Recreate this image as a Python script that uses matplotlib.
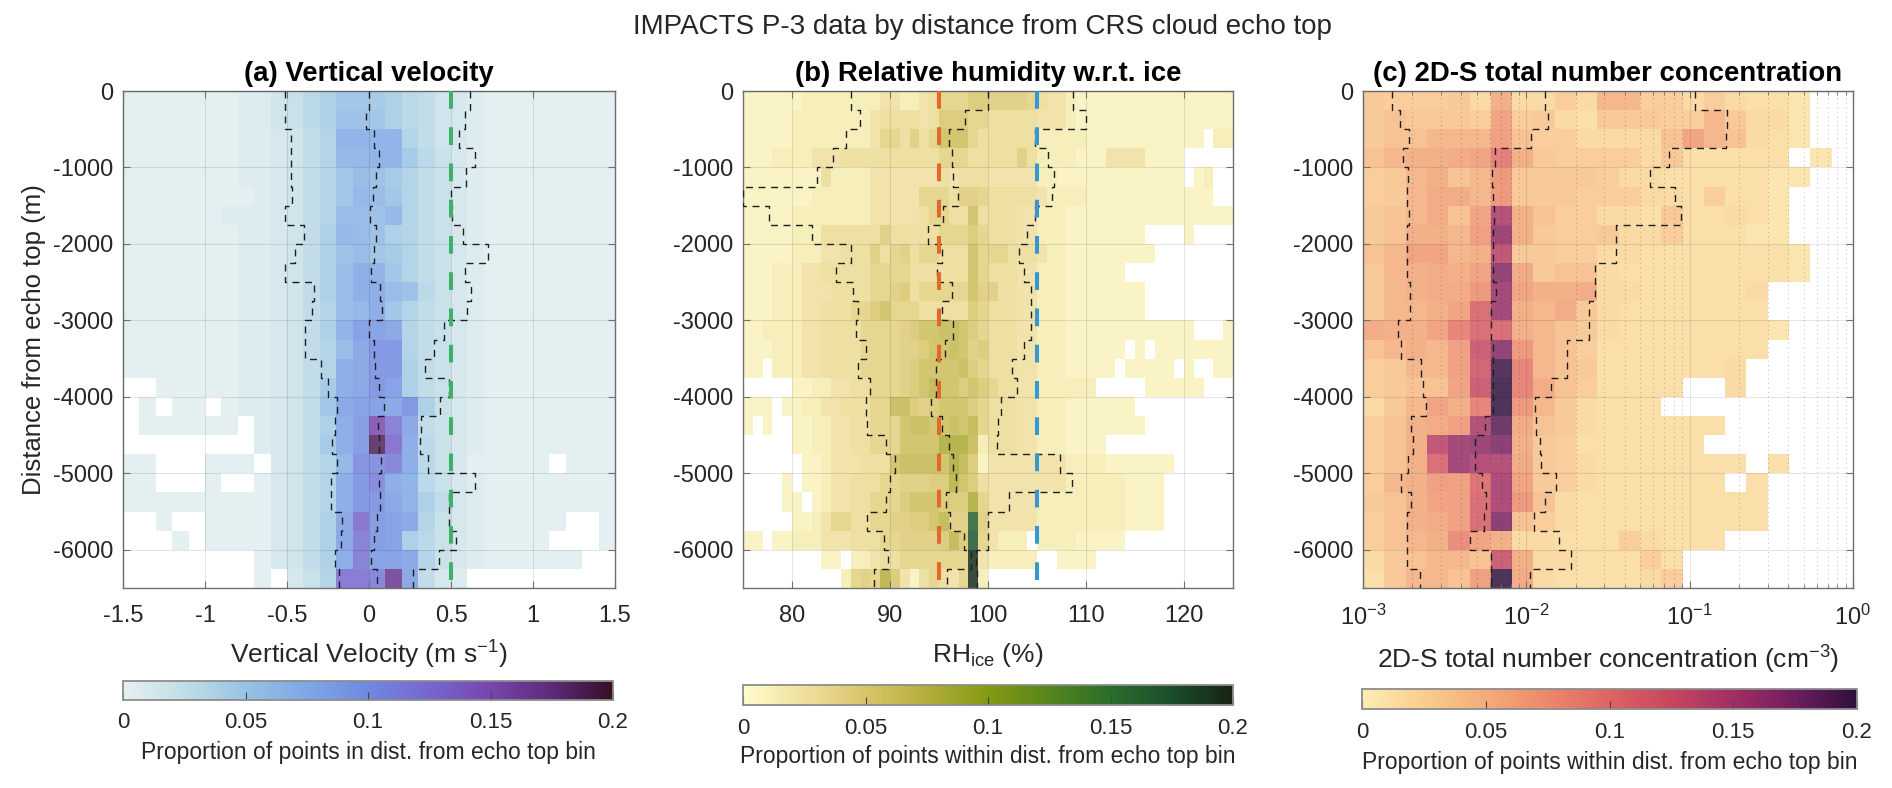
import numpy as np
import matplotlib
matplotlib.use("Agg")
import matplotlib.pyplot as plt
from matplotlib.colors import LinearSegmentedColormap, Normalize
from matplotlib.cm import ScalarMappable

plt.rcParams['font.family'] = ['Liberation Sans', 'DejaVu Sans']
plt.rcParams['axes.unicode_minus'] = False
plt.rcParams['mathtext.fontset'] = 'custom'
plt.rcParams['mathtext.rm'] = 'Liberation Sans'
plt.rcParams['mathtext.it'] = 'Liberation Sans:italic'
plt.rcParams['mathtext.bf'] = 'Liberation Sans:bold'
plt.rcParams['mathtext.default'] = 'regular'

# ------------------------------------------------------------------ text
SUPTITLE = "IMPACTS P-3 data by distance from CRS cloud echo top"
TITLES = ["(a) Vertical velocity", "(b) Relative humidity w.r.t. ice",
          "(c) 2D-S total number concentration"]
XLABELS = ["Vertical Velocity (m s$^{-1}$)", "RH$_{ice}$ (%)",
           "2D-S total number concentration (cm$^{-3}$)"]
YLABEL = "Distance from echo top (m)"
CBAR_LABELS = ["Proportion of points in dist. from echo top bin",
               "Proportion of points within dist. from echo top bin",
               "Proportion of points within dist. from echo top bin"]

# ------------------------------------------------------------------ bins / ticks
DIST_EDGES = np.arange(0, -6750, -250)          # 0 ... -6500 m, 26 bins
VV_EDGES = np.linspace(-1.5, 1.5, 31)           # 0.1 m/s bins
RH_EDGES = np.linspace(75, 125, 51)             # 1 % bins
NT_EDGES = np.logspace(-3, 0, 24)               # log bins

Y_TICKS = [0, -1000, -2000, -3000, -4000, -5000, -6000]
VV_TICKS = [-1.5, -1, -0.5, 0, 0.5, 1, 1.5]
VV_TICKLABELS = ["-1.5", "-1", "-0.5", "0", "0.5", "1", "1.5"]
RH_TICKS = [80, 90, 100, 110, 120]
NT_TICKS = [1e-3, 1e-2, 1e-1, 1]
NT_TICKLABELS = ["10$^{-3}$", "10$^{-2}$", "10$^{-1}$", "10$^{0}$"]
CBAR_TICKS = [0, 0.05, 0.1, 0.15, 0.2]
CBAR_TICKLABELS = ["0", "0.05", "0.1", "0.15", "0.2"]

# ------------------------------------------------------------------ histogram proportions
# one string per 250 m row (top row first); each character is a proportion
# in steps of 0.005 (index in LEVEL_CODES); '.' = no data
LEVEL_CODES = "0123456789abcdefghijklmnopqrstuvwxyzABCDEFGH"
LEVEL_STEP = 0.005

VV_ROWS = [
    "111111122" "4579bba97643" "211111111",
    "111111122" "4579ccb97643" "211111111",
    "111111122" "3468ffff8643" "211111111",
    "111111122" "3468eeffa753" "211111111",
    "111111122" "3468bdca8653" "211111111",
    "111111112" "3468bedb8653" "211111111",
    "111111222" "3468ddce8653" "211111111",
    "111111122" "3469edc98653" "211111111",
    "111111122" "3469cdba8653" "211111111",
    "111111122" "3469dgfb8653" "211111111",
    "111111122" "3469dggdc753" "211111111",
    "111111122" "3468degb8653" "211111111",
    "111111122" "3469fiih8653" "211111111",
    "111111122" "3468dhkk8653" "211111111",
    "111111122" "3468ghkk9653" "211111111",
    "..1111122" "346aghki9653" "211111111",
    ".1.11.122" "346bhiihk953" "211111111",
    ".111111.2" "3469gjuoh653" "211111111",
    "........2" "346agjBqg753" "211111111",
    "11...111." "3468ellng753" "11111.111",
    "11...1..1" "3468gkmgf753" "211111111",
    "111111111" "3468gkkhf963" "211111111",
    "..1..1111" "3469hqjih853" "211111..1",
    "...1.1111" "3469hoji9753" "21111...1",
    "........1" "3469goiih853" "2111111..",
    "........1" ".358ppnxh632" ".........",
]

RH_ROWS = [
    "2222223333" "3333553356" "888aa99998" "6553222222" "2222222222",
    "2222233333" "3335666656" "aaa8866666" "5553222222" "2222222222",
    "2222233333" "3335886968" "ccc8666666" "3333322222" "2222222.33",
    "2223333555" "6666666666" "8886666696" "3333222555" "52222.....",
    "2222222263" "3335555555" "6566655555" "3322222222" "22222.23..",
    "2222222333" "3335555588" "8699866666" "5333322222" "22222222..",
    "2222233333" "3335555568" "866c666655" "3332222222" "2222222222",
    "2222233366" "6666966666" "888a866655" "3332222222" "2....2....",
    "2222233355" "6669689688" "666c888666" "5332222222" "22........",
    "2223335566" "6668888666" "666c866655" "333222222." "..........",
    "2223335556" "666889a688" "888c996655" "3332222222" "2.........",
    "2223335566" "688ac88866" "666a866655" "3332222222" "2.........",
    "2233335566" "6688889acc" "ddca866655" "3332222222" "222222...2",
    "2223335566" "66888899ac" "cdc9a66655" "333222222." "2.22222222",
    "22.3335566" "6688889acc" "ccda866655" "33322222.2" "2222.2..22",
    ".....22335" "5668889ace" "ccaca86655" "333333...." ".222222...",
    "222.223355" "66688dda9a" "ccca866655" "3332222222" "..........",
    "2.2..22335" "566888cddc" "cdce866655" "3332222222" "2.........",
    ".....22335" "566888cccc" "gggd366655" "3332222..." "..........",
    "......2235" "55666cdddd" "cgea255555" "5553333222" "2222......",
    "....2.2235" "566688999a" "afca655555" "5553333332" "222.......",
    "....22.235" "566888accc" "aaag855555" "3333333332" "222.......",
    ".....22358" "8668899aac" "e99w955555" "3333333332" "222.......",
    "22.2233355" "5666889999" "aeay85333." "333322222." "..........",
    "........22" ".335668888" "888D533333" "..2222...." "..........",
    ".........." "3898fa5268" "658D3....." ".........." "..........",
]

NT_ROWS = [
    "766674b4464aa66464332..",
    "787776d674377766a7442..",
    "788aaae86644448da8432..",
    "8abbcdjb766664733333.2.",
    "67ab8af77776443333322..",
    "67accaf7776664436332...",
    "78ac8dtb866443733432...",
    "78bbaewb766744633322...",
    "8addabr77664433333332..",
    "7abcbdxc7884333333332..",
    "7abccfvdbbc44333334....",
    "7aabdmvbac743333333....",
    "cbbdimmba87433333332...",
    "8abaepxfa8633333333....",
    "67aaeoDia873333334.....",
    "6788dpEic863333..4.....",
    "47adbiEfa74333.........",
    "68bcetBc874333333......",
    "68brvwyb76333333.......",
    "68bmvttc7643333333.3...",
    "6abeelud764333333.3....",
    "78bdemuf84333333333....",
    "68bcemy864333333333....",
    "68abhdb4433364333......",
    "478aa8pb4433363........",
    "37aa8eEc4333346........",
]

# ------------------------------------------------------------------ per-row quantile lines (dashed)
VV_Q_LOW = [-0.51, -0.51, -0.474, -0.478, -0.478, -0.47, -0.51, -0.398, -0.453, -0.514,
            -0.337, -0.345, -0.39, -0.39, -0.29, -0.25, -0.195, -0.205, -0.224, -0.195,
            -0.23, -0.23, -0.167, -0.17, -0.21, -0.18]
VV_Q_MID = [0.0, -0.016, 0.03, 0.06, 0.04, 0.025, 0.005, 0.04, 0.03, 0.015,
            0.07, 0.08, 0.0, 0.03, 0.035, 0.06, 0.09, 0.055, 0.06, 0.075,
            0.06, 0.065, 0.05, 0.03, 0.015, 0.05]
VV_Q_HIGH = [0.614, 0.583, 0.547, 0.644, 0.594, 0.498, 0.508, 0.573, 0.726, 0.583,
             0.624, 0.6, 0.455, 0.396, 0.34, 0.49, 0.43, 0.315, 0.31, 0.36,
             0.648, 0.488, 0.488, 0.53, 0.425, 0.27]

RH_Q_LOW = [86.05, 86.9, 85.5, 84.2, 82.6, 75.0, 77.7, 82.0, 86.05, 84.5,
            86.2, 86.7, 86.5, 87.5, 86.7, 88.0, 87.5, 87.7, 89.6, 90.5,
            90.0, 89.6, 87.7, 89.4, 89.8, 88.4]
RH_Q_MID = [100.0, 97.7, 96.0, 96.3, 96.4, 96.9, 95.4, 93.9, 95.3, 94.8,
            96.3, 95.3, 96.4, 95.6, 94.7, 94.7, 94.2, 95.3, 96.0, 96.4,
            96.7, 95.7, 96.1, 97.6, 98.3, 95.8]
RH_Q_HIGH = [108.7, 110.0, 104.8, 106.1, 106.7, 106.5, 104.8, 104.0, 103.2, 103.7,
             104.4, 104.4, 104.4, 103.7, 102.4, 103.0, 101.3, 101.0, 100.9, 107.3,
             108.6, 102.1, 100.0, 100.0, 98.8, 98.9]

# log10 of concentration (cm^-3)
NT_Q_LOW_LOG = [-2.82, -2.776, -2.72, -2.755, -2.725, -2.73, -2.718, -2.73, -2.73, -2.73,
                -2.71, -2.71, -2.786, -2.77, -2.643, -2.633, -2.612, -2.708, -2.694, -2.724,
                -2.765, -2.708, -2.729, -2.729, -2.729, -2.653]
NT_Q_MID_LOG = [-1.888, -1.867, -1.969, -2.194, -2.208, -2.204, -2.198, -2.204, -2.204, -2.204,
                -2.184, -2.214, -2.218, -2.204, -2.204, -2.204, -2.204, -2.255, -2.312, -2.312,
                -2.27, -2.245, -2.26, -2.347, -2.214, -2.214]
NT_Q_HIGH_LOG = [-0.969, -0.769, -0.776, -1.129, -1.245, -1.092, -1.055, -1.449, -1.449, -1.578,
                 -1.578, -1.618, -1.618, -1.751, -1.751, -1.847, -1.949, -1.939, -1.918, -1.912,
                 -1.816, -1.888, -1.953, -1.8, -1.724, -1.98]

VV_REF = [0.5]
RH_REF = [95, 105]

# ------------------------------------------------------------------ styles
DENSE = ["#e6f1f1", "#c0dde6", "#97c3e4", "#7ea7e5", "#7088e0", "#7667cf",
         "#7646ad", "#5e2a7a", "#360e24"]
SPEED = ["#fffdcd", "#efdf9c", "#d8c569", "#b3ad3a", "#849a14", "#55861c",
         "#2a6e2b", "#1b4e2b", "#172313"]
MATTER = ["#fdedb0", "#f9cd8f", "#f4ab79", "#ec886a", "#de6462", "#c5465f",
          "#a12f64", "#6e1e5e", "#2f0f3d"]
VV_REF_COLORS = ["#3fb06a"]
RH_REF_COLORS = ["#e2682c", "#3597d3"]
MESH_ALPHA = 0.85
TEXT_COLOR = "#262626"
SPINE_COLOR = "#707070"

W, H = 1892, 788


def rect(l, t, r, b):
    return [l / W, 1 - b / H, (r - l) / W, (b - t) / H]


def decode(rows, ncols):
    z = np.full((len(rows), ncols), np.nan)
    for i, row in enumerate(rows):
        row = (row + "." * ncols)[:ncols]
        for j, ch in enumerate(row):
            if ch != ".":
                z[i, j] = LEVEL_CODES.index(ch) * LEVEL_STEP
    return np.ma.masked_invalid(z)


def step_line(ax, vals):
    xs = np.repeat(np.asarray(vals, float), 2)
    ys = np.column_stack([DIST_EDGES[:-1], DIST_EDGES[1:]]).ravel()
    ax.plot(xs, ys, color="#1e1e1e", lw=1.0, ls=(0, (5, 4)), zorder=3)


fig = plt.figure(figsize=(W / 100, H / 100), dpi=100)
fig.patch.set_facecolor("white")
norm = Normalize(0, 0.2)

panels = [
    dict(ax=rect(123, 91, 615, 588), cb=rect(123, 681, 613, 700), edges=VV_EDGES,
         rows=VV_ROWS, cmap=DENSE, q=[VV_Q_LOW, VV_Q_MID, VV_Q_HIGH],
         ref=VV_REF, refc=VV_REF_COLORS, xlim=(-1.5, 1.5), log=False,
         xt=VV_TICKS, xtl=VV_TICKLABELS, xly=-0.135, cbl=753),
    dict(ax=rect(743, 91, 1233, 588), cb=rect(743, 685, 1233, 705), edges=RH_EDGES,
         rows=RH_ROWS, cmap=SPEED, q=[RH_Q_LOW, RH_Q_MID, RH_Q_HIGH],
         ref=RH_REF, refc=RH_REF_COLORS, xlim=(75, 125), log=False,
         xt=RH_TICKS, xtl=[str(t) for t in RH_TICKS], xly=-0.135, cbl=757),
    dict(ax=rect(1363, 91, 1853, 588), cb=rect(1362, 689, 1857, 709), edges=NT_EDGES,
         rows=NT_ROWS, cmap=MATTER,
         q=[10.0 ** np.array(NT_Q_LOW_LOG), 10.0 ** np.array(NT_Q_MID_LOG),
            10.0 ** np.array(NT_Q_HIGH_LOG)],
         ref=[], refc=[], xlim=(1e-3, 1), log=True,
         xt=NT_TICKS, xtl=NT_TICKLABELS, xly=-0.145, cbl=762),
]

for k, p in enumerate(panels):
    ax = fig.add_axes(p["ax"])
    cmap = LinearSegmentedColormap.from_list("cm%d" % k, p["cmap"])
    z = decode(p["rows"], len(p["edges"]) - 1)
    ax.pcolormesh(p["edges"], DIST_EDGES, z, cmap=cmap, norm=norm,
                  alpha=MESH_ALPHA, edgecolors="none", zorder=1)
    if p["log"]:
        ax.set_xscale("log")
    ax.set_xlim(*p["xlim"])
    ax.set_ylim(DIST_EDGES[-1], DIST_EDGES[0])
    for q in p["q"]:
        step_line(ax, q)
    for xv, c in zip(p["ref"], p["refc"]):
        ax.plot([xv, xv], [DIST_EDGES[0], DIST_EDGES[-1]], color=c, lw=2.9,
                ls=(0, (4.4, 4.6)), zorder=4, solid_capstyle="butt")

    ax.set_xticks(p["xt"])
    ax.set_xticklabels(p["xtl"])
    ax.set_yticks(Y_TICKS)
    ax.set_yticklabels([str(v) for v in Y_TICKS])
    ax.set_axisbelow(False)
    ax.grid(True, which="major", color="#000000", alpha=0.10, lw=0.8)
    if p["log"]:
        ax.grid(True, which="minor", axis="x", color="#000000", alpha=0.22,
                lw=0.8, ls=(0, (1, 3)))
    ax.tick_params(which="both", direction="in", top=True, right=True,
                   colors=SPINE_COLOR, labelcolor=TEXT_COLOR)
    ax.tick_params(which="major", length=5, width=0.8, labelsize=17)
    ax.tick_params(which="minor", length=3, width=0.6)
    ax.tick_params(axis="x", which="major", pad=12)
    ax.tick_params(axis="y", which="major", pad=7)
    for s in ax.spines.values():
        s.set_color(SPINE_COLOR)
        s.set_linewidth(1.0)

    ax.set_title(TITLES[k], fontsize=19.8, fontweight="bold", color="black", pad=7)
    ax.set_xlabel(XLABELS[k], fontsize=19, color=TEXT_COLOR)
    ax.xaxis.set_label_coords(0.5, p["xly"])
    ax.xaxis.label.set_va("center")
    if k == 0:
        ax.set_ylabel(YLABEL, fontsize=18.5, color=TEXT_COLOR)
        ax.yaxis.set_label_coords(-0.181, 0.5)
        ax.yaxis.label.set_va("center")

    # colorbar
    cax = fig.add_axes(p["cb"])
    sm = ScalarMappable(norm=norm, cmap=cmap)
    cb = fig.colorbar(sm, cax=cax, orientation="horizontal", ticks=CBAR_TICKS)
    cb.set_ticklabels(CBAR_TICKLABELS)
    cb.outline.set_edgecolor("#8c8c8c")
    cb.outline.set_linewidth(1.3)
    cax.tick_params(direction="in", length=6, width=0.8, color="#444444",
                    labelsize=16, labelcolor=TEXT_COLOR, pad=9)
    bb = p["cb"]
    fig.text(bb[0] + bb[2] / 2, 1 - p["cbl"] / H, CBAR_LABELS[k], ha="center",
             va="center", fontsize=16.5, color=TEXT_COLOR)

fig.text(982 / W, 1 - 27 / H, SUPTITLE, ha="center", va="center", fontsize=20,
         color=TEXT_COLOR)

fig.savefig("out.png", dpi=100, facecolor="white")
